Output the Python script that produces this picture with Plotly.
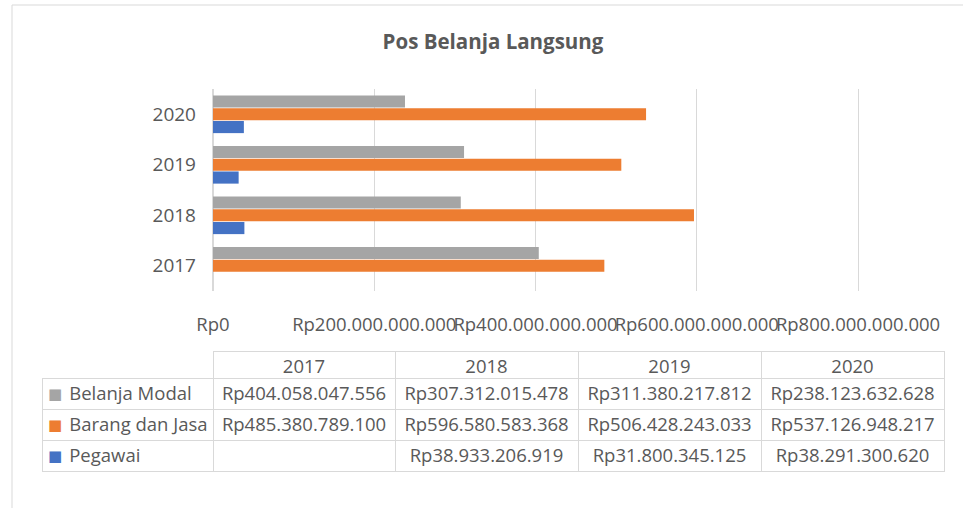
import plotly.graph_objects as go

years = ["2017", "2018", "2019", "2020"]
belanja_modal = [404058047556, 307312015478, 311380217812, 238123632628]
barang_jasa = [485380789100, 596580583368, 506428243033, 537126948217]
pegawai = [None, 38933206919, 31800345125, 38291300620]

series_names = ["Belanja Modal", "Barang dan Jasa", "Pegawai"]
series_colors = ["#A5A5A5", "#ED7D31", "#4472C4"]

tick_vals = [0, 200e9, 400e9, 600e9, 800e9]
tick_text = ["Rp0", "Rp200.000.000.000", "Rp400.000.000.000",
             "Rp600.000.000.000", "Rp800.000.000.000"]

FONT = "Open Sans, Noto Sans, sans-serif"
TXT = "#595959"
GRID = "#D9D9D9"
W, H = 963, 508
TABLE_TOP = 351
HEADER_H = 27
ROW_H = 31
X_MAX = 815e9  # a bit past the last tick so its gridline is drawn


def rp(v):
    if v is None:
        return ""
    return "Rp" + f"{v:,}".replace(",", ".")


fig = go.Figure()
series_values = [belanja_modal, barang_jasa, pegawai]
# plotly places grouped horizontal bars bottom-up, so add in reverse order
for name, vals, col in reversed(list(zip(series_names, series_values, series_colors))):
    fig.add_trace(go.Bar(
        y=years, x=vals, name=name, orientation="h",
        marker=dict(color=col, line=dict(width=0)),
        showlegend=False, hoverinfo="x+name",
    ))

# data table (first column doubles as the legend)
NB = "\u00a0"
first_col = [NB * 4 + n.replace(" ", NB) for n in series_names]
cols = [first_col] + [[rp(s[i]) for s in series_values] for i in range(len(years))]

fig.add_trace(go.Table(
    domain=dict(x=[42 / W, 944 / W], y=[0.02, 1 - TABLE_TOP / H]),
    columnwidth=[171, 182, 183, 183, 183],
    header=dict(
        values=[""] + years,
        height=HEADER_H,
        align="center",
        fill=dict(color="white"),
        line=dict(color=["white", GRID, GRID, GRID, GRID], width=[0, 1, 1, 1, 1]),
        font=dict(family=FONT, size=18.5, color=TXT),
    ),
    cells=dict(
        values=cols,
        height=ROW_H,
        align=["left", "center", "center", "center", "center"],
        fill=dict(color="white"),
        line=dict(color=GRID, width=1),
        font=dict(family=FONT, size=18.5, color=TXT),
    ),
))

# legend keys in the table's first column
annotations = []
for i, (n, c) in enumerate(zip(series_names, series_colors)):
    yc = TABLE_TOP + HEADER_H + ROW_H * i + ROW_H / 2
    annotations.append(dict(
        text="■", x=54.5 / W, y=1 - yc / H, xref="paper", yref="paper",
        xanchor="center", yanchor="middle", showarrow=False,
        font=dict(family="DejaVu Sans", size=15, color=c),
    ))

fig.update_layout(
    width=W, height=H,
    margin=dict(l=0, r=0, t=0, b=0, autoexpand=False),
    paper_bgcolor="white", plot_bgcolor="white",
    barmode="group", bargap=0.24, bargroupgap=0.05,
    font=dict(family=FONT, color=TXT),
    title=dict(text="Pos Belanja Langsung", x=493 / W, y=1 - 42 / H,
               xanchor="center", yanchor="middle",
               font=dict(family=FONT, size=20.5, color=TXT, weight="bold")),
    xaxis=dict(domain=[213 / W, (213 + 645 * X_MAX / 800e9) / W], range=[0, X_MAX],
               automargin=False,
               tickvals=tick_vals, ticktext=tick_text, tickangle=0,
               showgrid=True, gridcolor=GRID, gridwidth=1,
               zeroline=True, zerolinecolor=GRID, showline=False,
               ticklabelstandoff=20,
               tickfont=dict(family=FONT, size=18.5, color=TXT)),
    yaxis=dict(domain=[1 - 291 / H, 1 - 89 / H], type="category", automargin=False,
               categoryorder="array", categoryarray=years,
               showgrid=False, zeroline=False, showline=False,
               ticks="", ticklabelstandoff=16,
               tickfont=dict(family=FONT, size=19, color=TXT)),
    annotations=annotations,
    shapes=[dict(type="rect", xref="paper", yref="paper",
                 x0=12 / W, x1=1.05, y0=-0.05, y1=1 - 5 / H,
                 line=dict(color="#D9D9D9", width=1), layer="below")],
)

fig.write_html("out.html", config={"displayModeBar": False},
               post_script="document.body.style.margin='0px';")
